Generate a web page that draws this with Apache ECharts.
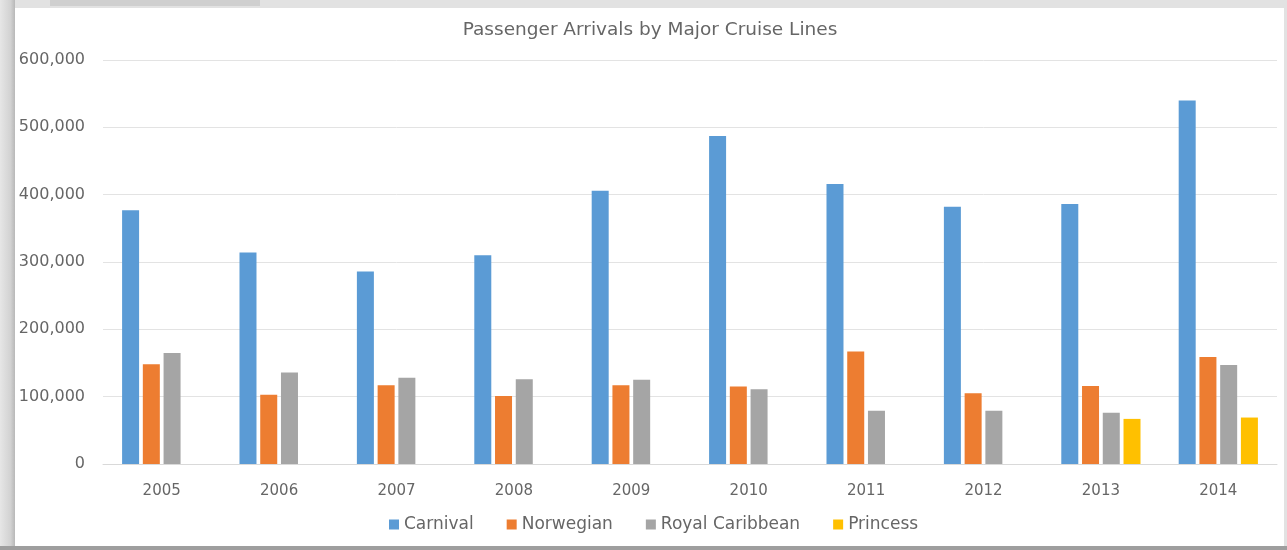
<!DOCTYPE html>
<html>
<head>
<meta charset="utf-8">
<script src="https://cdn.jsdelivr.net/npm/echarts@6/dist/echarts.min.js"></script>
<style>
  html, body { margin: 0; padding: 0; width: 1287px; height: 550px; overflow: hidden; background: #e2e2e2; }
  #topstrip { position: absolute; left: 50px; top: 0; width: 210px; height: 6px; background: #cfcfcf; }
  #leftedge { position: absolute; left: 0; top: 0; width: 15px; height: 550px; background: linear-gradient(to right, #e6e6e6, #d2d2d2 70%, #b8b8b8); }
  #bottomedge { position: absolute; left: 0; top: 546px; width: 1287px; height: 4px; background: #9e9e9e; }
  #card { position: absolute; left: 15px; top: 8px; width: 1269px; height: 538px; background: #ffffff; }
  #chart { position: absolute; left: 0; top: 0; width: 1287px; height: 550px; }
</style>
</head>
<body>
<div id="topstrip"></div>
<div id="leftedge"></div>
<div id="bottomedge"></div>
<div id="card"></div>
<div id="chart"></div>
<script>
const titleText = 'Passenger Arrivals by Major Cruise Lines';
const years = ['2005', '2006', '2007', '2008', '2009', '2010', '2011', '2012', '2013', '2014'];
const seriesNames = ['Carnival', 'Norwegian', 'Royal Caribbean', 'Princess'];
const carnival = [377000, 314000, 286000, 310000, 406000, 487000, 416000, 382000, 386000, 540000];
const norwegian = [148000, 103000, 117000, 101000, 117000, 115000, 167000, 105000, 116000, 159000];
const royalCaribbean = [165000, 136000, 128000, 126000, 125000, 111000, 79000, 79000, 76000, 147000];
const princess = [null, null, null, null, null, null, null, null, 67000, 69000];
const yTicks = [0, 100000, 200000, 300000, 400000, 500000, 600000];
const colors = ['#5B9BD5', '#ED7D31', '#A5A5A5', '#FFC000'];

const seriesData = [carnival, norwegian, royalCaribbean, princess];
const chart = echarts.init(document.getElementById('chart'), null, { renderer: 'canvas' });
const fontFamily = '"DejaVu Sans", sans-serif';
const textColor = '#666666';
chart.setOption({
  backgroundColor: 'transparent',
  animation: false,
  color: colors,
  title: {
    text: titleText,
    left: 650,
    textAlign: 'center',
    top: 21,
    padding: 0,
    textStyle: { fontFamily: fontFamily, fontSize: 18.5, fontWeight: 'normal', color: textColor }
  },
  legend: {
    data: seriesNames,
    left: 389,
    top: 516,
    padding: 0,
    icon: 'rect',
    itemWidth: 10,
    itemHeight: 10,
    itemGap: 33,
    textStyle: { fontFamily: fontFamily, fontSize: 17, color: textColor }
  },
  grid: { left: 103, right: 10, top: 60, bottom: 86, containLabel: false },
  xAxis: {
    type: 'category',
    data: years,
    axisLine: { show: true, lineStyle: { color: '#d9d9d9', width: 1 } },
    axisTick: { show: false },
    axisLabel: { margin: 20, fontFamily: fontFamily, fontSize: 15, color: textColor }
  },
  yAxis: {
    type: 'value',
    min: yTicks[0],
    max: yTicks[yTicks.length - 1],
    interval: yTicks[1] - yTicks[0],
    axisLine: { show: false },
    axisTick: { show: false },
    splitLine: { lineStyle: { color: '#e3e3e3', width: 1 } },
    axisLabel: {
      margin: 18,
      fontFamily: fontFamily,
      fontSize: 16,
      color: textColor,
      formatter: function (v) { return v.toLocaleString('en-US'); }
    }
  },
  series: seriesNames.map(function (name, i) {
    return {
      name: name,
      type: 'bar',
      data: seriesData[i],
      barWidth: 17,
      barGap: '22%',
      itemStyle: { color: colors[i] }
    };
  })
});
</script>
</body>
</html>
